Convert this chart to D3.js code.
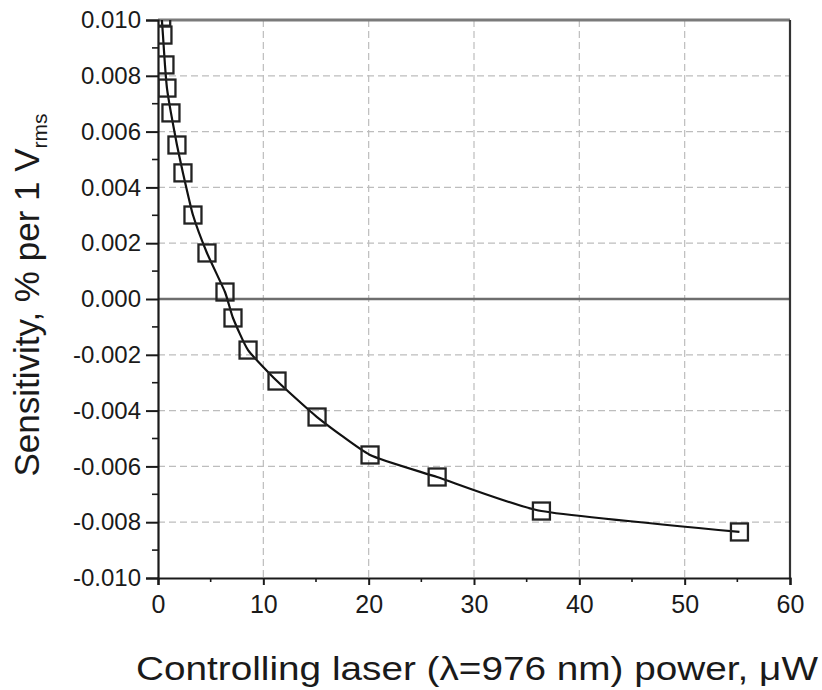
<!DOCTYPE html>
<html>
<head>
<meta charset="utf-8">
<script src="https://cdn.jsdelivr.net/npm/d3@7"></script>
<style>
  html, body { margin: 0; padding: 0; background: #fff; }
  svg { display: block; }
</style>
</head>
<body>
<svg id="chart" width="822" height="690"></svg>
<script>
// ---- data ----
const powerUW = [0.35, 0.47, 0.66, 0.85, 1.23, 1.80, 2.37, 3.32, 4.65, 6.36, 7.12, 8.55, 11.30, 15.10, 20.13, 26.5, 36.4, 55.2];
const sensitivity = [0.0101, 0.00946, 0.00839, 0.00756, 0.00667, 0.00552, 0.00452, 0.00301, 0.00165, 0.00025, -0.00068, -0.00183, -0.00294, -0.00423, -0.00559, -0.00638, -0.0076, -0.00835];
const xTicks = [0, 10, 20, 30, 40, 50, 60];
const yTicks = [-0.010, -0.008, -0.006, -0.004, -0.002, 0.000, 0.002, 0.004, 0.006, 0.008, 0.010];
const xLabel = "Controlling laser (λ=976 nm) power, μW";
const yLabelMain = "Sensitivity, % per 1 V";
const yLabelSub = "rms";

// ---- layout ----
const svg = d3.select("#chart");
const L = 158, R = 790, T = 20, B = 578;
const x = d3.scaleLinear().domain([0, 60]).range([L, R]);
const y = d3.scaleLinear().domain([-0.010, 0.010]).range([B, T]);
const font = "'Liberation Sans', Arial, sans-serif";
const ink = "#1a1a1a";

svg.append("defs").append("clipPath").attr("id", "clip")
  .append("rect").attr("x", L).attr("y", T).attr("width", R - L).attr("height", B - T);

// grid
const grid = svg.append("g");
grid.selectAll(".gx").data(xTicks.filter(d => d > 0 && d < 60)).enter().append("line")
  .attr("x1", d => x(d)).attr("x2", d => x(d)).attr("y1", T).attr("y2", B)
  .attr("stroke", "#bdbdbd").attr("stroke-width", 1.2).attr("stroke-dasharray", "7,4");
grid.selectAll(".gy").data(yTicks.filter(d => Math.abs(d) > 1e-9 && d > -0.0099 && d < 0.0099)).enter().append("line")
  .attr("x1", L).attr("x2", R).attr("y1", d => y(d)).attr("y2", d => y(d))
  .attr("stroke", "#bdbdbd").attr("stroke-width", 1.2).attr("stroke-dasharray", "7,4");

// zero line and top line
svg.append("line").attr("x1", L).attr("x2", R).attr("y1", y(0)).attr("y2", y(0))
  .attr("stroke", "#6e6e6e").attr("stroke-width", 2.6);
svg.append("line").attr("x1", L).attr("x2", R).attr("y1", y(0.010)).attr("y2", y(0.010))
  .attr("stroke", "#7a7a7a").attr("stroke-width", 3);

// right frame
svg.append("line").attr("x1", R).attr("x2", R).attr("y1", T).attr("y2", B + 1)
  .attr("stroke", "#333").attr("stroke-width", 2.2);

// axes
const xMinor = d3.range(5, 60, 10);
const yMinor = d3.range(-0.009, 0.0095, 0.002);

const xAxis = d3.axisBottom(x).tickValues(xTicks).tickFormat(d3.format("d")).tickSize(7).tickPadding(10);
const gx = svg.append("g").attr("transform", `translate(0,${B})`).call(xAxis);
gx.select(".domain").attr("stroke", ink).attr("stroke-width", 2.2);
gx.selectAll(".tick line").attr("stroke", ink).attr("stroke-width", 2);
gx.selectAll("text").attr("font-family", font).attr("font-size", 25).attr("fill", ink);
svg.append("g").selectAll("line").data(xMinor).enter().append("line")
  .attr("x1", d => x(d)).attr("x2", d => x(d)).attr("y1", B).attr("y2", B + 4)
  .attr("stroke", ink).attr("stroke-width", 1.6);

const yAxis = d3.axisLeft(y).tickValues(yTicks).tickFormat(d3.format(".3f")).tickSize(12).tickPadding(5);
const gy = svg.append("g").attr("transform", `translate(${L},0)`).call(yAxis);
gy.select(".domain").attr("stroke", ink).attr("stroke-width", 2.2);
gy.selectAll(".tick line").attr("stroke", ink).attr("stroke-width", 2);
gy.selectAll("text").attr("font-family", font).attr("font-size", 24).attr("fill", ink)
  .text(d => d3.format(".3f")(d).replace("−", "-"));
svg.append("g").selectAll("line").data(yMinor).enter().append("line")
  .attr("x1", L - 6).attr("x2", L).attr("y1", d => y(d)).attr("y2", d => y(d))
  .attr("stroke", ink).attr("stroke-width", 1.6);

// data curve
const pts = powerUW.map((p, i) => [p, sensitivity[i]]);
const line = d3.line().x(d => x(d[0])).y(d => y(d[1])).curve(d3.curveCardinal.tension(0.5));
const plot = svg.append("g").attr("clip-path", "url(#clip)");
plot.append("path").datum(pts).attr("d", line)
  .attr("fill", "none").attr("stroke", "#111").attr("stroke-width", 2.2);

const S = 17;
plot.selectAll(".pt").data(pts).enter().append("rect")
  .attr("x", d => x(d[0]) - S / 2).attr("y", d => y(d[1]) - S / 2)
  .attr("width", S).attr("height", S)
  .attr("fill", "none").attr("stroke", "#222").attr("stroke-width", 2.3);

// labels
svg.append("text").attr("x", 136).attr("y", 680)
  .attr("font-family", font).attr("font-size", 34).attr("fill", ink)
  .attr("textLength", 682).attr("lengthAdjust", "spacingAndGlyphs").text(xLabel);

const yl = svg.append("text").attr("transform", `translate(39,295) rotate(-90)`)
  .attr("text-anchor", "middle").attr("font-family", font).attr("font-size", 35).attr("fill", ink);
yl.append("tspan").text(yLabelMain);
yl.append("tspan").attr("font-size", 21).attr("dy", 8).text(yLabelSub);
</script>
</body>
</html>
